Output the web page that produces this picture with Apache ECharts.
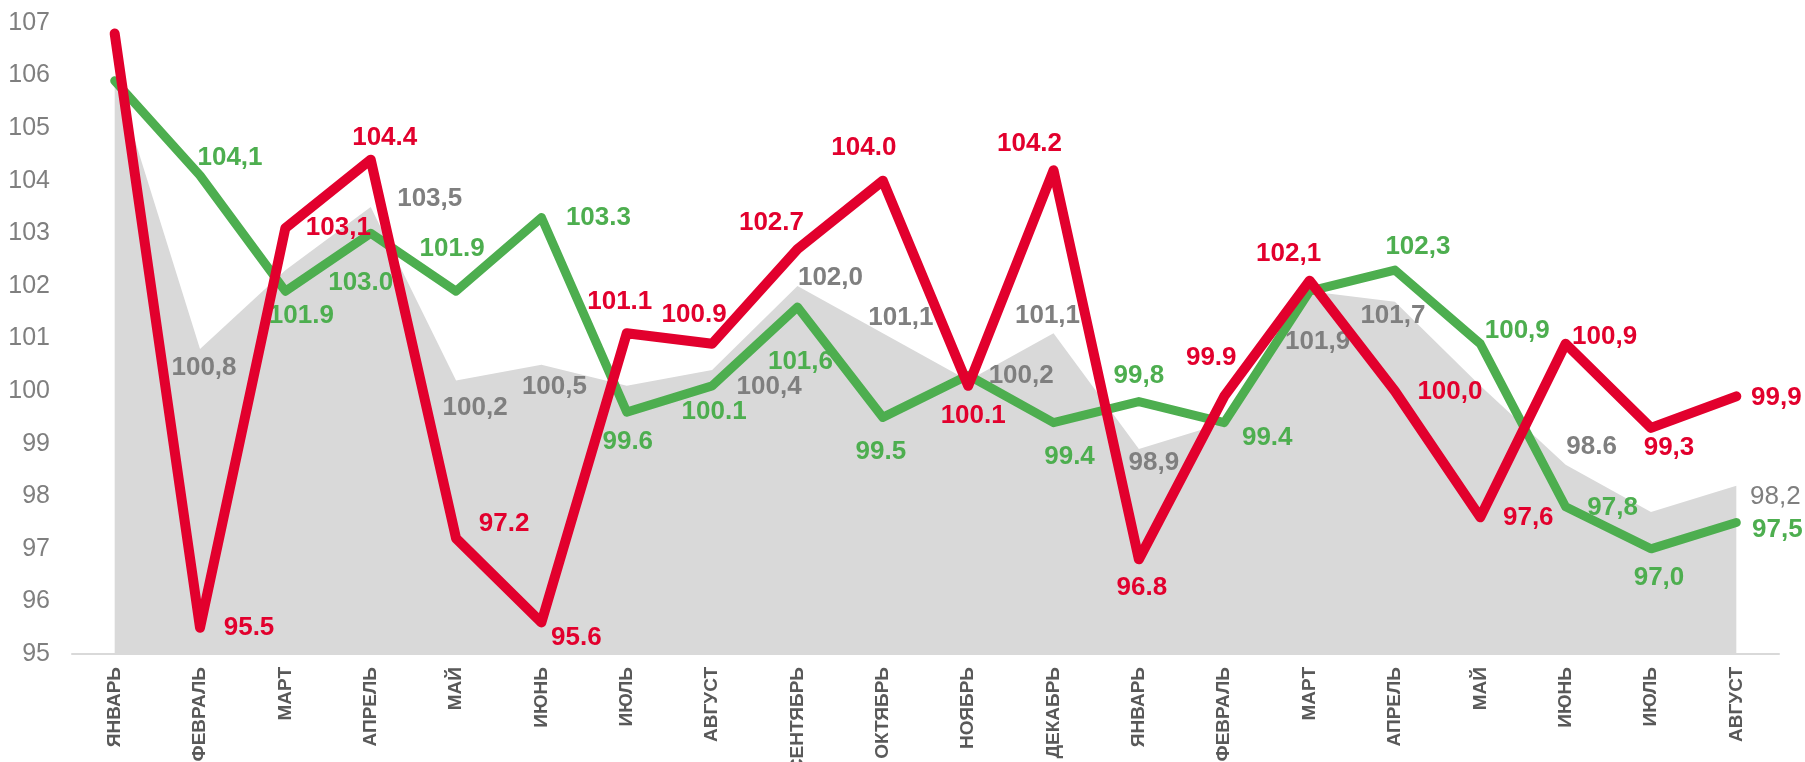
<!DOCTYPE html>
<html><head><meta charset="utf-8">
<script src="https://cdn.jsdelivr.net/npm/echarts@6/dist/echarts.min.js"></script>
<style>html,body{margin:0;padding:0;background:#fff}#c{width:1805px;height:762px}</style>
</head><body><div id="c"></div>
<script>
const categories = ['ЯНВАРЬ','ФЕВРАЛЬ','МАРТ','АПРЕЛЬ','МАЙ','ИЮНЬ','ИЮЛЬ','АВГУСТ','СЕНТЯБРЬ','ОКТЯБРЬ','НОЯБРЬ','ДЕКАБРЬ','ЯНВАРЬ','ФЕВРАЛЬ','МАРТ','АПРЕЛЬ','МАЙ','ИЮНЬ','ИЮЛЬ','АВГУСТ'];
const yTicks = [95,96,97,98,99,100,101,102,103,104,105,106,107];
const grayValues  = [106.0,100.8,102.3,103.5,100.2,100.5,100.1,100.4,102.0,101.1,100.2,101.1,98.9,99.4,101.9,101.7,100.1,98.6,97.7,98.2];
const greenValues = [105.9,104.1,101.9,103.0,101.9,103.3,99.6,100.1,101.6,99.5,100.3,99.4,99.8,99.4,101.9,102.3,100.9,97.8,97.0,97.5];
const redValues   = [106.8,95.5,103.1,104.4,97.2,95.6,101.1,100.9,102.7,104.0,100.1,104.2,96.8,99.9,102.1,100.0,97.6,100.9,99.3,99.9];
const grayLabels  = [null,'100,8',null,'103,5','100,2','100,5',null,'100,4','102,0','101,1','100,2','101,1','98,9',null,'101,9','101,7',null,'98.6',null,'98,2'];
const greenLabels = [null,'104,1','101.9','103.0','101.9','103.3','99.6','100.1','101,6','99.5',null,'99.4','99,8','99.4',null,'102,3','100,9','97,8','97,0','97,5'];
const redLabels   = [null,'95.5','103,1','104.4','97.2','95.6','101.1','100.9','102.7','104.0','100.1','104.2','96.8','99.9','102,1','100,0','97,6','100,9','99,3','99,9'];

// label offsets (style only)
const grayOff  = [[0,0],[4,19],[0,0],[59,-8],[19,27],[13,22],[0,0],[57,17],[33,-8],[18,-15],[53,-5],[-6,-17],[15,14],[0,0],[8,51],[-2,14],[0,0],[26,-18],[0,0],[39,11]];
const greenOff = [[0,0],[30,-18],[16,25],[-10,49],[-4,-42],[57,0],[1,30],[2,26],[3,55],[-2,34],[0,0],[16,34],[0,-26],[43,15],[0,0],[23,-23],[37,-13],[47,1],[8,29],[41,7]];
const redOff   = [[0,0],[49,0],[53,0],[14,-22],[48,-14],[35,15],[-7,-31],[-18,-29],[-26,-26],[-19,-33],[5,30],[-24,-26],[3,28],[-13,-39],[-21,-27],[55,1],[48,1],[39,-7],[18,20],[40,1]];

const FONT = '"Liberation Sans", Arial, sans-serif';
function mk(values, labels, offs, color, boldFn) {
  return values.map((v, i) => ({
    value: v,
    label: labels[i] == null ? {show:false} : {
      show: true, formatter: labels[i], position: 'inside', offset: offs[i],
      color: color, fontFamily: FONT, fontSize: 26,
      fontWeight: boldFn ? boldFn(i) : 'bold', align: 'center', verticalAlign: 'middle'
    }
  }));
}
const chart = echarts.init(document.getElementById('c'), null, {renderer:'canvas'});
chart.setOption({
  animation: false,
  backgroundColor: '#fff',
  grid: {left: 72, right: 26, top: 23, bottom: 108, containLabel: false, outerBoundsMode: 'none'},
  xAxis: {
    type: 'category', data: categories, boundaryGap: true,
    axisLine: {show: true, lineStyle: {color: '#d9d9d9', width: 2}},
    axisTick: {show: false},
    axisLabel: {rotate: 90, interval: 0, margin: 13, color: '#595959', fontFamily: FONT, fontSize: 19, fontWeight: 'bold', hideOverlap: false},
    splitLine: {show: false}
  },
  yAxis: {
    type: 'value', min: yTicks[0], max: yTicks[yTicks.length-1], interval: 1,
    axisLine: {show: false}, axisTick: {show: false}, splitLine: {show: false},
    axisLabel: {color: '#7f7f7f', fontFamily: FONT, fontSize: 25, margin: 22}
  },
  series: [
    {
      type: 'line', data: mk(grayValues, grayLabels, grayOff, '#7f7f7f', i => i === 19 ? 'normal' : 'bold'),
      symbol: 'circle', symbolSize: 1, itemStyle: {color: 'rgba(0,0,0,0)'},
      lineStyle: {width: 0, color: 'rgba(0,0,0,0)'},
      areaStyle: {color: '#d9d9d9', opacity: 1, origin: 'start'},
      z: 1, silent: true
    },
    {
      type: 'line', data: mk(greenValues, greenLabels, greenOff, '#4dae4f'),
      symbol: 'circle', symbolSize: 1, itemStyle: {color: 'rgba(0,0,0,0)'},
      lineStyle: {width: 9, color: '#4dae4f', cap: 'round', join: 'round'},
      z: 2, silent: true
    },
    {
      type: 'line', data: mk(redValues, redLabels, redOff, '#e2002d'),
      symbol: 'circle', symbolSize: 1, itemStyle: {color: 'rgba(0,0,0,0)'},
      lineStyle: {width: 10, color: '#e2002d', cap: 'round', join: 'round'},
      z: 3, silent: true
    }
  ]
});
</script></body></html>
